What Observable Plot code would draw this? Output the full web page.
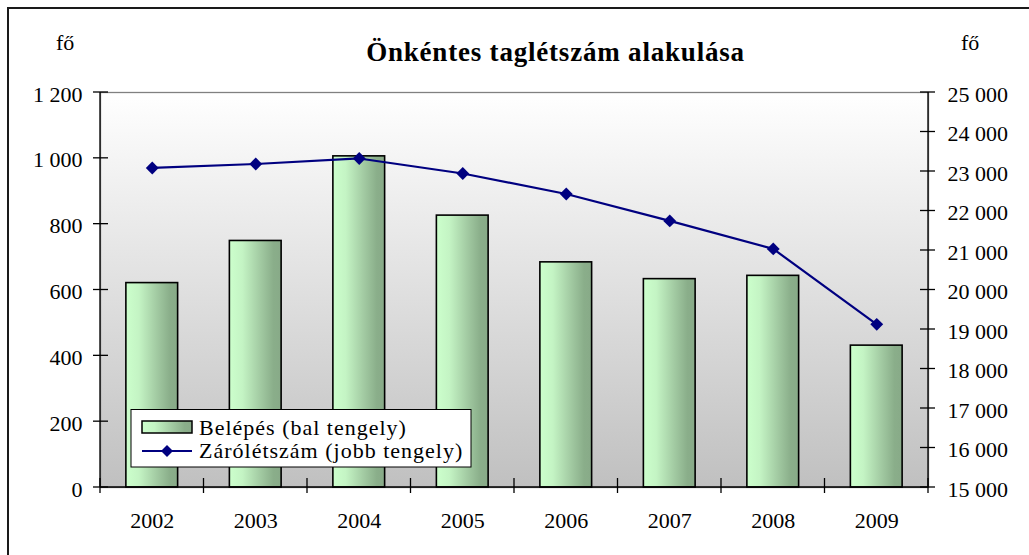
<!DOCTYPE html>
<html>
<head>
<meta charset="utf-8">
<script src="https://cdn.jsdelivr.net/npm/d3@7"></script>
<script src="https://cdn.jsdelivr.net/npm/@observablehq/plot@0.6"></script>
<style>
html, body { margin: 0; padding: 0; background: #fff; overflow: hidden; }
#wrap { position: relative; width: 1029px; height: 555px; }
#wrap > svg { position: absolute; left: 0; top: 0; }
#overlay { pointer-events: none; }
</style>
</head>
<body>
<div id="wrap"></div>
<script>
// ---- data ----
const years = ["2002", "2003", "2004", "2005", "2006", "2007", "2008", "2009"];
const belepes = [621, 749, 1006, 826, 684, 633, 643, 431];
const zarolétszam = [23090, 23190, 23330, 22950, 22430, 21750, 21040, 19130];
const leftTicks = [0, 200, 400, 600, 800, 1000, 1200];
const rightTicks = [15000, 16000, 17000, 18000, 19000, 20000, 21000, 22000, 23000, 24000, 25000];
const titleText = "Önkéntes taglétszám alakulása";
const unitLabel = "fő";
const legendLabels = ["Belépés (bal tengely)", "Zárólétszám (jobb tengely)"];
const leftMax = 1200, rightMin = 15000, rightMax = 25000;

const toLeft = v => (v - rightMin) * leftMax / (rightMax - rightMin);
const fromLeft = v => v * (rightMax - rightMin) / leftMax + rightMin;
const huLocale = d3.formatLocale({decimal: ",", thousands: "\u00a0", grouping: [3], currency: ["", ""]});
const fmt = huLocale.format(",d");

const data = years.map((y, i) => ({year: y, b: belepes[i], z: zarolétszam[i]}));
const FONT = "'Liberation Serif', 'Times New Roman', serif";

// custom mark: axis lines + crossing ticks, positioned with Plot's scales
function axisLines(index, scales, values, dim) {
  const {x, y} = scales;
  const L = dim.marginLeft, R = dim.width - dim.marginRight;
  const T = dim.marginTop, B = dim.height - dim.marginBottom;
  const g = d3.create("svg:g").attr("stroke", "#000").attr("stroke-width", 1.3).attr("fill", "none");
  g.append("line").attr("x1", L).attr("x2", L).attr("y1", T).attr("y2", B);
  g.append("line").attr("x1", R).attr("x2", R).attr("y1", T).attr("y2", B);
  g.append("line").attr("x1", L).attr("x2", R).attr("y1", B).attr("y2", B);
  leftTicks.forEach(v => g.append("line").attr("x1", L - 7).attr("x2", L + 8).attr("y1", y(v)).attr("y2", y(v)));
  rightTicks.forEach(v => g.append("line").attr("x1", R - 8).attr("x2", R + 7).attr("y1", y(toLeft(v))).attr("y2", y(toLeft(v))));
  const step = x(years[1]) - x(years[0]);
  const bw = typeof x.bandwidth === "function" ? x.bandwidth() : (typeof x.bandwidth === "number" ? x.bandwidth : step / 2);
  const off = (step - bw) / 2;
  const bounds = years.map(yr => x(yr) - off).concat([x(years[years.length - 1]) + bw + off]);
  bounds.forEach(b => g.append("line").attr("x1", b).attr("x2", b).attr("y1", B - 9).attr("y2", B + 6));
  return g.node();
}

const chart = Plot.plot({
  width: 1029,
  height: 555,
  marginLeft: 100,
  marginRight: 101,
  marginTop: 92,
  marginBottom: 68,
  style: {fontFamily: FONT, fontSize: "22px", color: "#000", background: "transparent", overflow: "visible"},
  x: {type: "band", domain: years, paddingInner: 0.5, paddingOuter: 0.25, round: false, axis: null},
  y: {domain: [0, leftMax], axis: null},
  marks: [
    Plot.frame({fill: "url(#bgGrad)", stroke: "#808080", strokeWidth: 1.3}),
    Plot.barY(data, {x: "year", y: "b", fill: "url(#barGrad)", stroke: "#000", strokeWidth: 1.6}),
    axisLines,
    Plot.line(data, {x: "year", y: d => toLeft(d.z), stroke: "#000080", strokeWidth: 2.2}),
    Plot.dot(data, {x: "year", y: d => toLeft(d.z), symbol: "diamond2", r: 5.8, fill: "#000080", stroke: "none"}),
    Plot.axisY(leftTicks, {anchor: "left", label: null, tickSize: 0, tickPadding: 18, dy: 2, tickFormat: fmt, fontSize: 22}),
    Plot.axisY(rightTicks.map(toLeft), {anchor: "right", label: null, tickSize: 0, tickPadding: 19, dy: 2, tickFormat: d => fmt(Math.round(fromLeft(d))), fontSize: 22}),
    Plot.axisX({label: null, tickSize: 0, tickPadding: 25, fontSize: 22})
  ]
});

const svgSel = d3.select(chart);
const defs = svgSel.insert("defs", ":first-child");
const bg = defs.append("linearGradient").attr("id", "bgGrad").attr("x1", 0).attr("y1", 0).attr("x2", 0).attr("y2", 1);
bg.append("stop").attr("offset", 0).attr("stop-color", "#ffffff");
bg.append("stop").attr("offset", 1).attr("stop-color", "#c0c0c0");
function barGradient(sel, id) {
  const gr = sel.append("linearGradient").attr("id", id).attr("x1", 0).attr("y1", 0).attr("x2", 1).attr("y2", 0);
  [[0, "#ccffcc"], [0.25, "#c4f4c4"], [0.6, "#a2caa2"], [0.85, "#8aae8a"], [1, "#88aa88"]]
    .forEach(([o, c]) => gr.append("stop").attr("offset", o).attr("stop-color", c));
}
barGradient(defs, "barGrad");

const wrap = document.getElementById("wrap");
wrap.appendChild(chart);

// overlay: border, title, units, legend
const ov = d3.select(wrap).append("svg").attr("id", "overlay")
  .attr("width", 1029).attr("height", 555)
  .style("font-family", FONT);
const odefs = ov.append("defs");
barGradient(odefs, "legGrad");

ov.append("path").attr("d", "M8,556V8H1030").attr("fill", "none").attr("stroke", "#1a1a1a").attr("stroke-width", 2);

ov.append("text").attr("x", 555.5).attr("y", 61).attr("text-anchor", "middle")
  .attr("font-size", 27).attr("font-weight", "bold").attr("letter-spacing", 0.8).text(titleText);
ov.append("text").attr("x", 56).attr("y", 50).attr("font-size", 22).text(unitLabel);
ov.append("text").attr("x", 961).attr("y", 50).attr("font-size", 22).text(unitLabel);

const lg = ov.append("g");
lg.append("rect").attr("x", 131).attr("y", 409.5).attr("width", 340).attr("height", 57.5)
  .attr("fill", "#fff").attr("stroke", "#000").attr("stroke-width", 1);
lg.append("rect").attr("x", 142).attr("y", 421).attr("width", 50).attr("height", 12)
  .attr("fill", "url(#legGrad)").attr("stroke", "#000").attr("stroke-width", 1.5);
lg.append("text").attr("x", 199).attr("y", 435).attr("font-size", 22).attr("letter-spacing", 1).text(legendLabels[0]);
lg.append("line").attr("x1", 142).attr("x2", 192).attr("y1", 451).attr("y2", 451)
  .attr("stroke", "#000080").attr("stroke-width", 2);
lg.append("path").attr("d", "M167,445L173,451L167,457L161,451Z").attr("fill", "#000080");
lg.append("text").attr("x", 199).attr("y", 458).attr("font-size", 22).attr("letter-spacing", 1).text(legendLabels[1]);
</script>
</body>
</html>
